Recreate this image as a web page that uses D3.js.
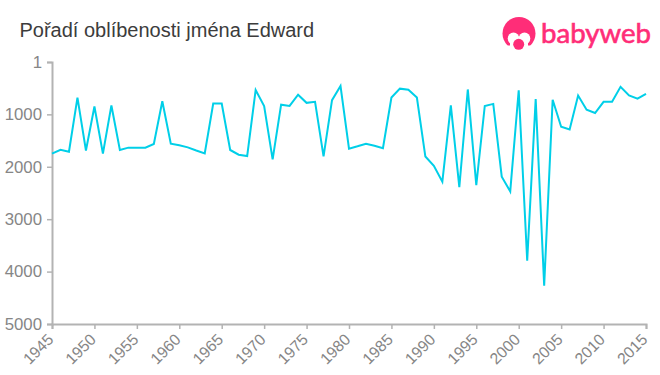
<!DOCTYPE html>
<html>
<head>
<meta charset="utf-8">
<script src="https://cdn.jsdelivr.net/npm/d3@7"></script>
<style>
  body { margin: 0; background: #fff; }
  svg { display: block; }
</style>
</head>
<body>
<div id="chart"></div>
<script>
let w = 660;
let h = 375;

let titleText = "Pořadí oblíbenosti jména Edward";
let logoText = "babyweb";

let years = [1945,1946,1947,1948,1949,1950,1951,1952,1953,1954,1955,1956,1957,1958,1959,
  1960,1961,1962,1963,1964,1965,1966,1967,1968,1969,1970,1971,1972,1973,1974,
  1975,1976,1977,1978,1979,1980,1981,1982,1983,1984,1985,1986,1987,1988,1989,
  1990,1991,1992,1993,1994,1995,1996,1997,1998,1999,2000,2001,2002,2003,2004,
  2005,2006,2007,2008,2009,2010,2011,2012,2013,2014,2015];

let ranks = [1750,1675,1712,680,1690,850,1750,830,1680,1635,1635,1635,1565,750,1560,
  1590,1630,1690,1745,795,795,1680,1770,1795,535,840,1860,815,840,625,
  780,760,1800,730,460,1655,1610,1560,1600,1645,680,510,530,680,1805,
  1980,2285,830,2390,525,2350,840,800,2190,2470,540,3790,710,4270,720,
  1235,1290,640,910,975,760,760,475,640,700,610];

let xTicks = [1945,1950,1955,1960,1965,1970,1975,1980,1985,1990,1995,2000,2005,2010,2015];
let yTicks = [1,1000,2000,3000,4000,5000];

let viz = d3.select("#chart")
  .append("svg")
    .attr("width", w)
    .attr("height", h)
    .attr("viewBox", "0 0 "+w+" "+h);

let xScale = d3.scaleLinear().domain([1945, 2015]).range([52, 646]);
let yScale = d3.scaleLinear().domain([1, 5000]).range([62, 324]);

// title
viz.append("text")
  .text(titleText)
  .attr("x", 19.5)
  .attr("y", 36.5)
  .attr("fill", "#3c3c3c")
  .attr("font-family", "'Liberation Sans', Arial, sans-serif")
  .attr("font-size", "20px");

// axes
let xAxis = d3.axisBottom(xScale).tickValues(xTicks).tickFormat(d3.format("d")).tickSize(5);
let yAxis = d3.axisLeft(yScale).tickValues(yTicks).tickFormat(d3.format("d")).tickSize(5).tickPadding(5);

let xAxisGroup = viz.append("g").attr("class", "xaxis")
  .attr("transform", "translate(0, 324)")
  .call(xAxis);

let yAxisGroup = viz.append("g").attr("class", "yaxis")
  .attr("transform", "translate(52, 0)")
  .call(yAxis);

viz.selectAll(".xaxis path, .yaxis path, .xaxis line, .yaxis line")
  .style("stroke", "#b3b3b3");
viz.selectAll(".xaxis path, .yaxis path")
  .style("stroke-width", "2px");
viz.selectAll(".xaxis line, .yaxis line")
  .style("stroke-width", "1.5px");

viz.selectAll(".xaxis text, .yaxis text")
  .style("font-family", "'Liberation Sans', Arial, sans-serif")
  .style("fill", "#868686");
yAxisGroup.selectAll("g.tick text").style("font-size", "16.8px");
xAxisGroup.selectAll("g.tick text").style("font-size", "15.8px");

// rotate each label around its tick, right end of the text sits under the tick
xAxisGroup.selectAll("g.tick text")
  .attr("x", 0)
  .attr("y", 0)
  .attr("dy", 0)
  .attr("text-anchor", "end")
  .attr("transform", "translate(2, 16.5) rotate(-45)");

// the line
let line = d3.line()
  .x((d, i) => xScale(years[i]))
  .y(d => yScale(d));

viz.append("path")
  .datum(ranks)
  .attr("d", line)
  .attr("fill", "none")
  .attr("stroke", "#00cfe8")
  .attr("stroke-width", 2)
  .attr("stroke-linejoin", "miter");

// logo
let logo = viz.append("g").attr("class", "logo");

logo.append("circle")
  .attr("cx", 519)
  .attr("cy", 33.5)
  .attr("r", 16.5)
  .attr("fill", "#ff2d78");

// face: two white bumps under the hair, the gap between them is the tuft
logo.append("ellipse")
  .attr("cx", 513.5)
  .attr("cy", 38.5)
  .attr("rx", 5.8)
  .attr("ry", 6)
  .attr("fill", "#fff");

logo.append("ellipse")
  .attr("cx", 524.5)
  .attr("cy", 38.5)
  .attr("rx", 5.8)
  .attr("ry", 6)
  .attr("fill", "#fff");

logo.append("rect")
  .attr("x", 510)
  .attr("y", 37)
  .attr("width", 18)
  .attr("height", 10)
  .attr("fill", "#fff");

logo.append("rect")
  .attr("x", 500)
  .attr("y", 45.5)
  .attr("width", 38)
  .attr("height", 8)
  .attr("fill", "#fff");

logo.append("circle")
  .attr("cx", 518.7)
  .attr("cy", 44.3)
  .attr("r", 5.5)
  .attr("fill", "#ff2d78");

logo.append("text")
  .text(logoText)
  .attr("x", 541)
  .attr("y", 43)
  .attr("textLength", 110)
  .attr("lengthAdjust", "spacingAndGlyphs")
  .attr("fill", "#ff2d78")
  .attr("stroke", "#ff2d78")
  .attr("stroke-width", 0.6)
  .attr("font-family", "Lato, 'Open Sans', sans-serif")
  .attr("font-size", "26px");
</script>
</body>
</html>
